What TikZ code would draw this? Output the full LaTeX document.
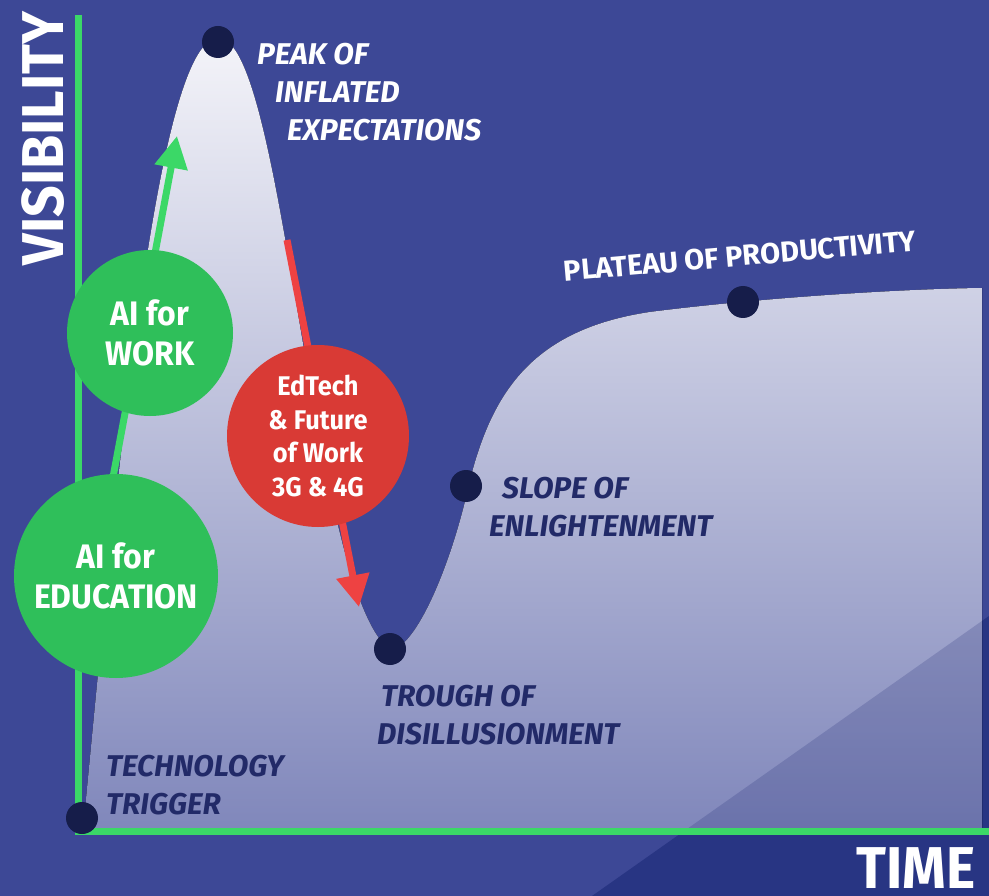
\documentclass[tikz,border=0pt]{standalone}
\usepackage{fontspec}
\setmainfont{Fira Sans}
\newfontfamily\labfont[FakeStretch=0.94]{Fira Sans}
\newfontfamily\phasefont{Fira Sans}
\usetikzlibrary{arrows.meta}

\definecolor{bgblue}{HTML}{3D4896}
\definecolor{deepblue}{HTML}{283583}
\definecolor{shadeblue}{HTML}{18226E}
\definecolor{navy}{HTML}{222A68}
\definecolor{dotnavy}{HTML}{161D4A}
\definecolor{axisgreen}{HTML}{3BD867}
\definecolor{circgreen}{HTML}{2FBF5A}
\definecolor{circred}{HTML}{D93A35}
\definecolor{arrowred}{HTML}{EE4242}
\definecolor{curvetop}{HTML}{F4F4F9}
\definecolor{curvebottom}{HTML}{8087BB}

\tikzset{
  milestone/.style={circle, fill=dotnavy, minimum size=32pt, inner sep=0pt},
  bubble/.style={circle, inner sep=0pt, text=white, align=center},
  phase/.style={inner sep=0pt, anchor=north west, align=left,
    font=\phasefont\bfseries\itshape\fontsize{30}{38}\selectfont},
  axisline/.style={draw=axisgreen, line width=7pt, line join=miter},
  trend/.style={line width=7pt, -{Triangle[length=32pt,width=32pt]}},
  bigword/.style={inner sep=0pt, text=white, font=\labfont\bfseries\fontsize{59}{59}\selectfont},
}

% outline of the hype curve, closed along the time axis
\def\hypepath{(83,831) -- (83,830)
  .. controls (115,500) and (155,40) .. (218,38)
  .. controls (285,36) and (310,590) .. (390,650)
  .. controls (415,650) and (452,565) .. (470,480)
  .. controls (492,395) and (530,330) .. (650,312)
  .. controls (760,298) and (900,289) .. (982,288)
  -- (982,831) -- cycle}

\begin{document}
\begin{tikzpicture}[x=1pt,y=-1pt]
\useasboundingbox (0,0) rectangle (989,896);

% background and the darker corner wedge
\fill[bgblue] (0,0) rectangle (989,896);
\fill[deepblue] (592,896) -- (989,616) -- (989,896) -- cycle;

% area under the curve
\fill[top color=curvetop, bottom color=curvebottom] \hypepath;
\begin{scope}
  \clip \hypepath;
  \fill[shadeblue, opacity=0.2] (592,896) -- (989,616) -- (989,896) -- cycle;
\end{scope}

% axes
\coordinate (ytop) at (78,15);
\coordinate (origin) at (78,831);
\coordinate (xend) at (989,831);
\draw[axisline] (ytop) -- (origin) -- (xend);

% rising trend behind the green bubbles
\coordinate (gstart) at (105,520);
\coordinate (gend) at (177,136);
\draw[trend, draw=axisgreen, fill=axisgreen] (gstart) -- (gend);

\node[bubble, fill=circgreen, minimum size=166pt,
  font=\labfont\bfseries\fontsize{34}{40}\selectfont] (work) at (150,333) {AI for\\WORK};
\node[bubble, fill=circgreen, minimum size=204pt,
  font=\labfont\bfseries\fontsize{34}{40}\selectfont] (edu) at (116,576) {AI for\\EDUCATION};

% falling trend behind the red bubble
\coordinate (rstart) at (287,240);
\coordinate (rend) at (359,607);
\draw[trend, draw=arrowred, fill=arrowred] (rstart) -- (rend);
\node[bubble, fill=circred, minimum size=182pt,
  font=\labfont\bfseries\fontsize{27}{33.5}\selectfont] (edtech) at (318,436)
  {EdTech\\\& Future\\of Work\\3G \& 4G};

% milestones on the curve
\node[milestone] (trigger) at (82,818) {};
\node[milestone] (peak) at (218,42) {};
\node[milestone] (trough) at (390,649) {};
\node[milestone] (slope) at (466,486) {};
\node[milestone] (plateau) at (743,302) {};

% phase labels
\node[phase, text=white] (peaklabel) at (257,43)
  {PEAK OF\\\hspace*{18pt}INFLATED\\\hspace*{30pt}EXPECTATIONS};
\node[phase, text=navy] (slopelabel) at (489,477)
  {\hspace*{13pt}SLOPE OF\\ENLIGHTENMENT};
\node[phase, text=navy] (troughlabel) at (377,685)
  {\hspace*{4pt}TROUGH OF\\DISILLUSIONMENT};
\node[phase, text=navy] (triggerlabel) at (106,755)
  {TECHNOLOGY\\TRIGGER};
\node[inner sep=0pt, text=white, rotate=5,
  font=\phasefont\bfseries\fontsize{29}{29}\selectfont] (plateaulabel) at (740,256)
  {PLATEAU OF PRODUCTIVITY};

% axis titles
\node[bigword, rotate=90] (ytitle) at (43.5,138.5) {VISIBILITY};
\node[bigword] (xtitle) at (916,868) {TIME};
\end{tikzpicture}
\end{document}
